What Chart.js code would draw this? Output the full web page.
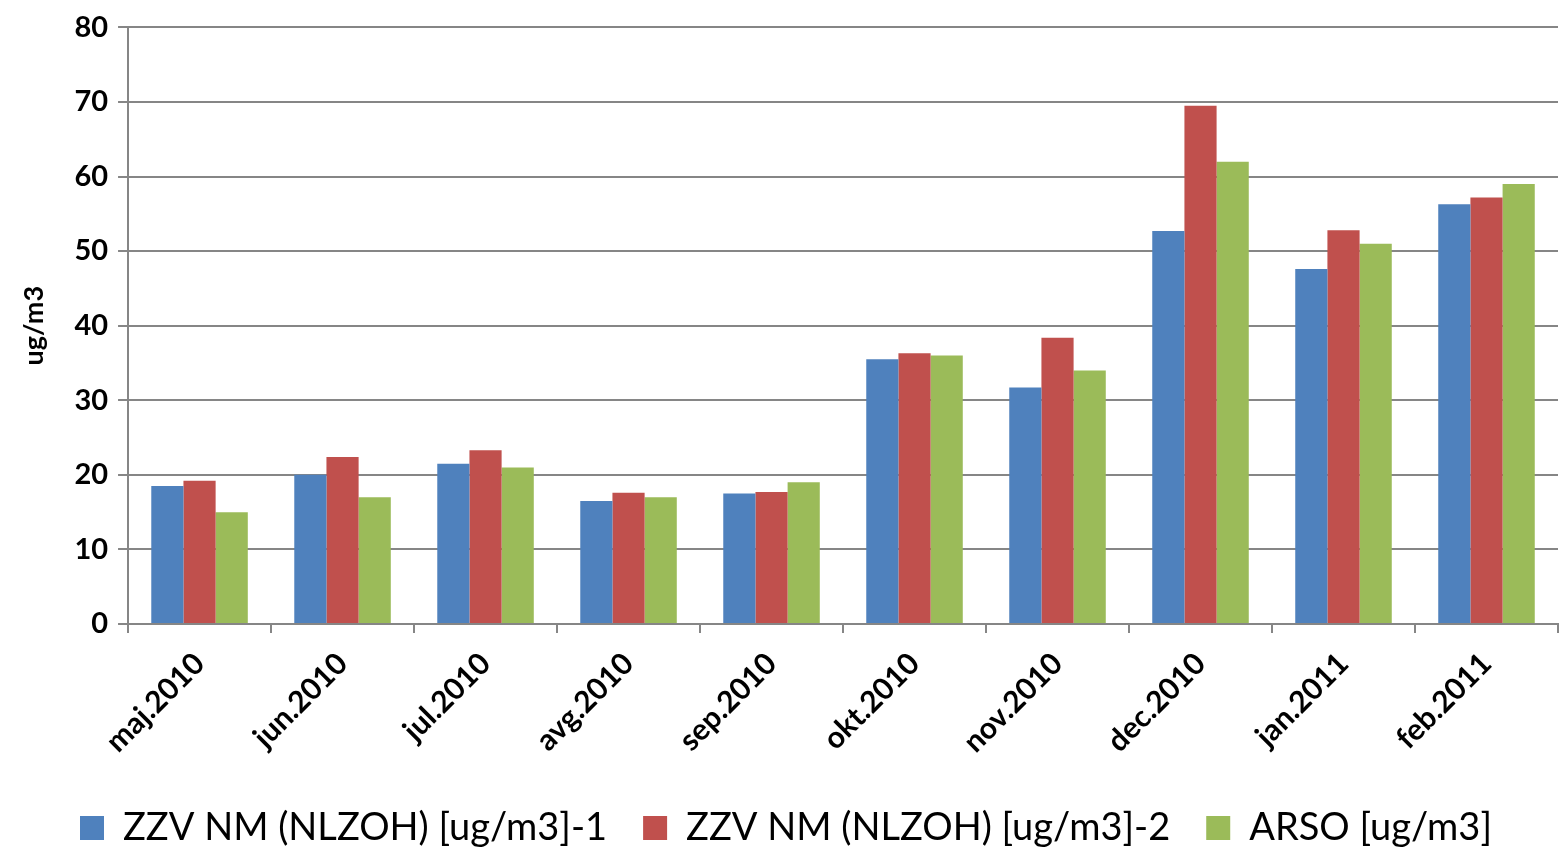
<!DOCTYPE html>
<html>
<head>
<meta charset="utf-8">
<script src="https://cdn.jsdelivr.net/npm/chart.js@4"></script>
<style>
  html, body { margin: 0; padding: 0; background: #fff; }
  canvas { display: block; }
</style>
</head>
<body>
<canvas id="chart" width="1561" height="847"></canvas>
<script>
// mjesečne vrijednosti
const months = ['maj.2010', 'jun.2010', 'jul.2010', 'avg.2010', 'sep.2010',
                'okt.2010', 'nov.2010', 'dec.2010', 'jan.2011', 'feb.2011'];
const zzv1 = [18.5, 20.0, 21.5, 16.5, 17.5, 35.5, 31.7, 52.7, 47.6, 56.3];
const zzv2 = [19.2, 22.4, 23.3, 17.6, 17.7, 36.3, 38.4, 69.5, 52.8, 57.2];
const arso = [15.0, 17.0, 21.0, 17.0, 19.0, 36.0, 34.0, 62.0, 51.0, 59.0];
const seriesNames = ['ZZV NM (NLZOH) [ug/m3]-1', 'ZZV NM (NLZOH) [ug/m3]-2', 'ARSO [ug/m3]'];
const colors = ['#4F81BD', '#C0504D', '#9BBB59'];

const FONT = 'Lato, "Open Sans", sans-serif';
const axisGrey = '#868686';

const ctx = document.getElementById('chart').getContext('2d');
new Chart(ctx, {
  type: 'bar',
  data: {
    labels: months,
    datasets: [zzv1, zzv2, arso].map((d, i) => ({
      label: seriesNames[i],
      data: d,
      backgroundColor: colors[i],
      borderWidth: 0,
      barPercentage: 1.0,
      categoryPercentage: 0.675
    }))
  },
  options: {
    responsive: false,
    animation: false,
    layout: { padding: { top: 4, right: 3, left: 14, bottom: -10 } },
    plugins: {
      tooltip: { enabled: false },
      legend: {
        position: 'bottom',
        labels: {
          boxWidth: 24,
          boxHeight: 24,
          padding: 36,
          color: '#000',
          font: { family: FONT, size: 38 }
        }
      }
    },
    scales: {
      x: {
        grid: {
          offset: true,
          drawOnChartArea: false,
          tickLength: 9,
          color: axisGrey,
          lineWidth: 2
        },
        border: { color: axisGrey, width: 2 },
        ticks: {
          minRotation: 45,
          maxRotation: 45,
          color: '#000',
          padding: 13,
          font: { family: FONT, size: 30, weight: 'bold' }
        }
      },
      y: {
        min: 0,
        max: 80,
        ticks: {
          stepSize: 10,
          color: '#000',
          padding: 10,
          font: { family: FONT, size: 29, weight: 'bold' }
        },
        grid: { color: axisGrey, lineWidth: 2, tickLength: 10 },
        border: { color: axisGrey, width: 2 },
        title: {
          display: true,
          text: 'ug/m3',
          color: '#000',
          padding: { bottom: 14 },
          font: { family: FONT, size: 27, weight: 'bold' }
        }
      }
    }
  }
});
</script>
</body>
</html>
